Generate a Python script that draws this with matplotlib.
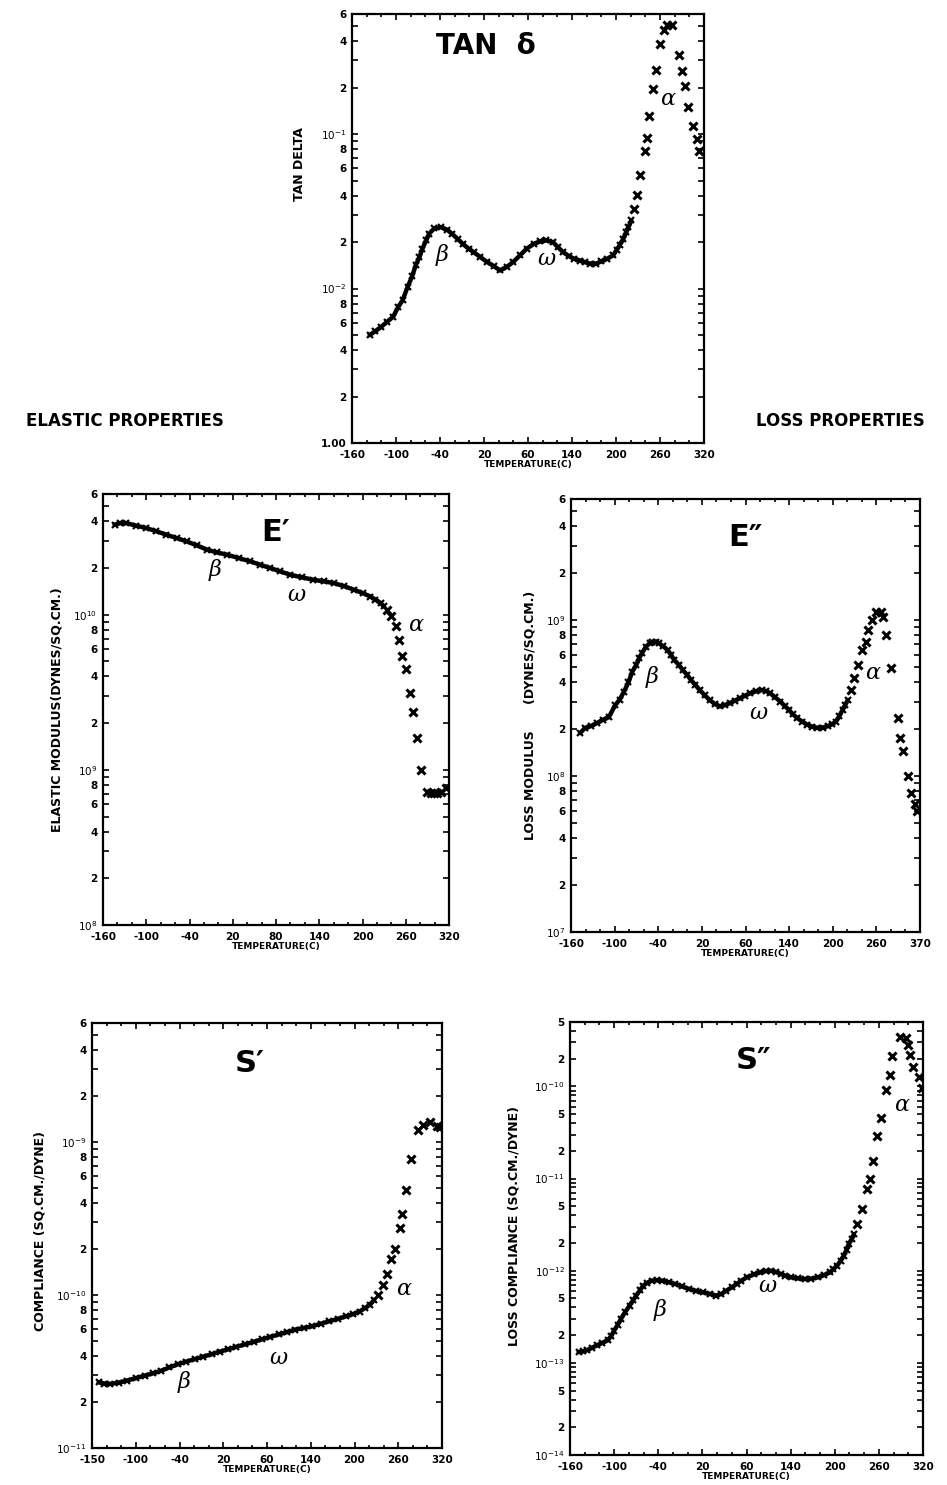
import matplotlib
matplotlib.use("Agg")
import matplotlib.pyplot as plt
import numpy as np

# ---- data (temperature in C, property values) ----
tan_T = [-136, -128, -120, -112, -104, -97, -91, -84, -78, -73, -68, -64, -59, -55, -48, -39, -30, -23, -16, -8, 0, 6, 15, 24, 33, 42, 51, 60, 69, 78, 88, 97, 105, 114, 121, 128, 136, 143, 151, 158, 165, 173, 180, 188, 196, 201, 205, 210, 214, 217, 221]
tan_V = [5.0e-3, 5.3e-3, 5.66e-3, 6.1e-3, 6.56e-3, 7.6e-3, 8.4e-3, 1.03e-2, 1.2e-2, 1.42e-2, 1.6e-2, 1.81e-2, 2.05e-2, 2.26e-2, 2.45e-2, 2.5e-2, 2.4e-2, 2.25e-2, 2.1e-2, 1.93e-2, 1.8e-2, 1.72e-2, 1.6e-2, 1.49e-2, 1.4e-2, 1.31e-2, 1.38e-2, 1.49e-2, 1.64e-2, 1.81e-2, 1.95e-2, 2.02e-2, 2.05e-2, 2.0e-2, 1.85e-2, 1.72e-2, 1.62e-2, 1.56e-2, 1.52e-2, 1.48e-2, 1.45e-2, 1.45e-2, 1.5e-2, 1.56e-2, 1.64e-2, 1.78e-2, 1.91e-2, 2.1e-2, 2.32e-2, 2.5e-2, 2.76e-2]
tan_T2 = [225, 228, 233, 239.5, 242, 245.4, 251, 255, 260, 265.7, 270, 277, 286, 290.5, 293.7, 298.7, 305, 311, 313]
tan_V2 = [3.28e-2, 4.04e-2, 5.47e-2, 7.8e-2, 9.5e-2, 0.131, 0.195, 0.262, 0.381, 0.471, 0.513, 0.513, 0.328, 0.256, 0.205, 0.149, 0.113, 0.093, 0.078]

ep_T = [-144, -136, -128, -114, -100, -86, -72, -58, -44, -30, -16, -2, 12, 28, 44, 58, 72, 86, 100, 116, 132, 146, 160, 174, 188, 200, 211, 218, 225, 230]
ep_V = [3.81e10, 3.9e10, 3.9e10, 3.75e10, 3.62e10, 3.45e10, 3.28e10, 3.12e10, 2.97e10, 2.8e10, 2.63e10, 2.52e10, 2.44e10, 2.32e10, 2.21e10, 2.1e10, 2.0e10, 1.9e10, 1.81e10, 1.74e10, 1.68e10, 1.64e10, 1.6e10, 1.53e10, 1.45e10, 1.38e10, 1.31e10, 1.25e10, 1.19e10, 1.13e10]
ep_T2 = [234, 239, 245.8, 250.5, 255, 259.8, 265.8, 270.4, 276, 281.6, 290, 295, 299, 304, 308.4, 315.4]
ep_V2 = [1.08e10, 9.75e9, 8.4e9, 6.9e9, 5.4e9, 4.5e9, 3.13e9, 2.35e9, 1.6e9, 1.0e9, 7.25e8, 7.1e8, 7.06e8, 7.1e8, 7.25e8, 7.6e8]

epp_T = [-147.5, -140.6, -132, -124.4, -116, -108, -99, -93, -87, -81, -75.7, -70, -66.5, -62, -57, -52, -48, -43, -38.7, -33, -27, -22, -18, -12, -6.3, 0, 5, 11, 17, 24, 30.7, 38, 44.6, 52, 58.5, 65, 72.4, 79, 86.3, 94, 102.5, 108, 114, 121, 128, 134, 139.5, 145, 151, 158, 165, 172, 179, 186, 192.8, 199, 204.4, 209, 213.6, 217, 220.6]
epp_V = [1.89e8, 2.04e8, 2.1e8, 2.19e8, 2.3e8, 2.39e8, 2.86e8, 3.1e8, 3.49e8, 4.0e8, 4.68e8, 5.2e8, 5.69e8, 6.2e8, 6.76e8, 7.1e8, 7.28e8, 7.3e8, 7.1e8, 6.8e8, 6.44e8, 5.95e8, 5.56e8, 5.2e8, 4.8e8, 4.45e8, 4.14e8, 3.85e8, 3.57e8, 3.3e8, 3.08e8, 2.9e8, 2.8e8, 2.86e8, 2.94e8, 3.05e8, 3.16e8, 3.28e8, 3.4e8, 3.5e8, 3.57e8, 3.52e8, 3.4e8, 3.2e8, 3.01e8, 2.82e8, 2.67e8, 2.5e8, 2.36e8, 2.24e8, 2.14e8, 2.08e8, 2.04e8, 2.05e8, 2.09e8, 2.15e8, 2.24e8, 2.42e8, 2.67e8, 2.85e8, 3.08e8]
epp_T2 = [225, 229.8, 235.4, 240, 246, 248, 254, 260, 266, 269, 273.8, 280.7, 290, 292, 297, 303, 307.6, 313, 315.5]
epp_V2 = [3.57e8, 4.25e8, 5.16e8, 6.44e8, 7.28e8, 8.63e8, 1.0e9, 1.13e9, 1.13e9, 1.05e9, 8.1e8, 4.91e8, 2.36e8, 1.76e8, 1.45e8, 1.0e8, 7.83e7, 6.6e7, 5.98e7]

sp_T = [-151, -143, -135, -123, -112, -100, -88, -76, -65, -54, -42, -31, -19, -8, 4, 15, 27, 38, 50, 62, 73, 84, 96, 108, 119, 131, 142, 154, 165, 177, 188, 198, 207, 214, 221, 227]
sp_V = [2.69e-11, 2.64e-11, 2.62e-11, 2.68e-11, 2.76e-11, 2.86e-11, 2.97e-11, 3.08e-11, 3.2e-11, 3.36e-11, 3.53e-11, 3.67e-11, 3.81e-11, 3.95e-11, 4.1e-11, 4.26e-11, 4.42e-11, 4.59e-11, 4.76e-11, 4.95e-11, 5.13e-11, 5.32e-11, 5.52e-11, 5.73e-11, 5.95e-11, 6.1e-11, 6.25e-11, 6.5e-11, 6.73e-11, 6.98e-11, 7.25e-11, 7.5e-11, 7.8e-11, 8.2e-11, 8.62e-11, 9.3e-11]
sp_T2 = [232, 239, 244.7, 250.7, 256, 262, 264.6, 270.6, 277.5, 287.6, 294.5, 303.8, 313, 317.6]
sp_V2 = [1.0e-10, 1.16e-10, 1.38e-10, 1.72e-10, 2.0e-10, 2.76e-10, 3.4e-10, 4.88e-10, 7.8e-10, 1.19e-9, 1.29e-9, 1.35e-9, 1.28e-9, 1.25e-9]

spp_T = [-148.4, -142, -136.9, -130, -123, -116, -109, -104, -100, -95, -90.7, -85, -79, -74, -70, -65, -60.6, -55, -49, -42, -35, -26, -16.7, -8, 1.8, 11, 20.3, 30, 39, 46, 52.7, 60, 66.5, 73, 80.4, 90, 99, 106, 112.8, 120, 126.6, 133, 140.5, 150, 159, 168, 177.5, 186, 193.7, 198, 203, 208, 212, 216, 219, 223, 226]
spp_V = [1.31e-13, 1.33e-13, 1.37e-13, 1.46e-13, 1.55e-13, 1.65e-13, 1.75e-13, 1.95e-13, 2.24e-13, 2.6e-13, 3.0e-13, 3.55e-13, 4.18e-13, 4.8e-13, 5.37e-13, 6.1e-13, 6.88e-13, 7.4e-13, 7.8e-13, 7.85e-13, 7.8e-13, 7.5e-13, 7.18e-13, 6.75e-13, 6.34e-13, 6.05e-13, 5.83e-13, 5.6e-13, 5.37e-13, 5.6e-13, 6.08e-13, 6.6e-13, 7.18e-13, 7.8e-13, 8.47e-13, 9.1e-13, 9.6e-13, 9.9e-13, 1.0e-12, 9.7e-13, 9.2e-13, 8.8e-13, 8.47e-13, 8.25e-13, 8.13e-13, 8.2e-13, 8.47e-13, 9.0e-13, 9.6e-13, 1.04e-12, 1.13e-12, 1.28e-12, 1.45e-12, 1.68e-12, 1.94e-12, 2.2e-12, 2.49e-12]
spp_T2 = [230.7, 237.6, 244.5, 247.8, 251.5, 257.5, 263, 270, 274.6, 278.3, 288.4, 296.8, 300, 302.3, 307, 314, 319]
spp_V2 = [3.2e-12, 4.72e-12, 7.64e-12, 9.95e-12, 1.55e-11, 2.88e-11, 4.55e-11, 9.05e-11, 1.34e-10, 2.15e-10, 3.48e-10, 3.34e-10, 2.82e-10, 2.2e-10, 1.64e-10, 1.26e-10, 9.6e-11]

x_ticks = [-160, -100, -40, 20, 80, 140, 200, 260, 320]

# ---- figure ----
W, H = 947, 1485
fig = plt.figure(figsize=(W / 100, H / 100), dpi=100)
plt.rcParams['font.family'] = ['DejaVu Sans']


def axes_px(l, t, r, b):
    return fig.add_axes([l / W, 1 - b / H, (r - l) / W, (b - t) / H])


def decade_label(e):
    return r'$10^{%d}$' % e


def setup(ax, lo_exp, hi_val, labelled, xlabels, ylabel, ylab_xy):
    ax.set_yscale('log')
    ax.set_xlim(-160, 320)
    ax.set_ylim(10.0 ** lo_exp, hi_val)
    # y ticks at every integer multiple, labels only on chosen ones
    pos, labs = [], []
    e = lo_exp
    while 10.0 ** e <= hi_val * 1.001:
        for m in range(1, 10):
            v = m * 10.0 ** e
            if v > hi_val * 1.001:
                break
            pos.append(v)
            if m == 1:
                labs.append(decade_label(e))
            elif m in labelled:
                labs.append(str(m))
            else:
                labs.append('')
        e += 1
    ax.yaxis.set_major_locator(matplotlib.ticker.FixedLocator(pos))
    ax.yaxis.set_major_formatter(matplotlib.ticker.FixedFormatter(labs))
    ax.yaxis.set_minor_locator(matplotlib.ticker.NullLocator())
    ax.set_xticks(x_ticks)
    ax.set_xticklabels(xlabels)
    ax.set_xticks(np.arange(-160, 321, 20), minor=True)
    ax.tick_params(which='both', direction='in', top=True, right=True,
                   width=1.2, labelsize=7.5)
    ax.tick_params(axis='x', which='major', length=4, pad=5)
    ax.tick_params(axis='y', which='major', length=4, pad=4)
    ax.tick_params(which='minor', length=2.5)
    for lab in ax.get_xticklabels() + ax.get_yticklabels():
        lab.set_fontweight('bold')
    for s in ax.spines.values():
        s.set_linewidth(1.6)
    ax.set_xlabel('TEMPERATURE(C)', fontsize=6.5, fontweight='bold', labelpad=0)
    ax.set_ylabel(ylabel, fontsize=9, fontweight='bold')
    ax.yaxis.set_label_coords(*ylab_xy)


def draw(ax, T, V, T2, V2):
    ax.plot(T, V, '-', color='black', lw=3.2, solid_capstyle='round')
    ax.plot(T, V, 'x', color='black', ms=5, mew=1.6)
    ax.plot(T2, V2, 'x', color='black', ms=6, mew=2.2)


def greek(ax, pts):
    for s, x, y in pts:
        ax.text(x, y, s, fontsize=16, fontstyle='italic', family='DejaVu Serif',
                ha='center', va='center')


# TAN delta
ax0 = axes_px(352, 14, 704, 443)
draw(ax0, tan_T, tan_V, tan_T2, tan_V2)
setup(ax0, -3, 0.6, (2, 4, 6, 8),
      ['-160', '-100', '-40', '20', '60', '140', '200', '260', '320'],
      'TAN DELTA', (-0.13, 0.65))
ylabs = [t.get_text() for t in ax0.get_yticklabels()]
ax0.yaxis.set_major_formatter(matplotlib.ticker.FixedFormatter(['1.00'] + ylabs[1:]))
ax0.text(0.38, 0.925, 'TAN  δ', transform=ax0.transAxes, fontsize=20,
         fontweight='bold', ha='center', va='center')
greek(ax0, [('β', -37, 1.64e-2), ('ω', 105, 1.56e-2), ('α', 270, 0.168)])

# E'
ax1 = axes_px(103, 494, 449, 925)
draw(ax1, ep_T, ep_V, ep_T2, ep_V2)
setup(ax1, 8, 6e10, (2, 4, 6, 8),
      ['-160', '-100', '-40', '20', '80', '140', '200', '260', '320'],
      'ELASTIC MODULUS(DYNES/SQ.CM.)', (-0.115, 0.5))
ax1.text(0.5, 0.91, 'E′', transform=ax1.transAxes, fontsize=22,
         fontweight='bold', ha='center', va='center')
greek(ax1, [('β', -5, 1.95e10), ('ω', 109, 1.35e10), ('α', 274, 8.6e9)])

# E''
ax2 = axes_px(571, 499, 920, 932)
draw(ax2, epp_T, epp_V, epp_T2, epp_V2)
setup(ax2, 7, 6e9, (2, 4, 6, 8),
      ['-160', '-100', '-40', '20', '60', '140', '200', '260', '370'],
      'LOSS MODULUS      (DYNES/SQ.CM.)', (-0.1, 0.5))
ax2.text(0.5, 0.91, 'E″', transform=ax2.transAxes, fontsize=22,
         fontweight='bold', ha='center', va='center')
greek(ax2, [('β', -48, 4.35e8), ('ω', 98, 2.53e8), ('α', 255, 4.57e8)])

# S'
ax3 = axes_px(92, 1023, 442, 1448)
draw(ax3, sp_T, sp_V, sp_T2, sp_V2)
setup(ax3, -11, 6e-9, (2, 4, 6, 8),
      ['-150', '-100', '-40', '20', '60', '140', '200', '260', '320'],
      'COMPLIANCE (SQ.CM./DYNE)', (-0.13, 0.51))
ax3.text(0.45, 0.905, 'S′', transform=ax3.transAxes, fontsize=22,
         fontweight='bold', ha='center', va='center')
greek(ax3, [('β', -33, 2.69e-11), ('ω', 96, 3.9e-11), ('α', 267, 1.1e-10)])

# S''
ax4 = axes_px(570, 1022, 923, 1455)
draw(ax4, spp_T, spp_V, spp_T2, spp_V2)
setup(ax4, -14, 5e-10, (2, 5),
      ['-160', '-100', '-40', '20', '60', '140', '200', '260', '320'],
      'LOSS COMPLIANCE (SQ.CM./DYNE)', (-0.14, 0.53))
ax4.text(0.52, 0.91, 'S″', transform=ax4.transAxes, fontsize=22,
         fontweight='bold', ha='center', va='center')
greek(ax4, [('β', -37, 3.7e-13), ('ω', 108, 6.9e-13), ('α', 291, 6.3e-11)])

fig.text(125 / W, 1 - 421 / H, 'ELASTIC PROPERTIES', fontsize=12,
         fontweight='bold', ha='center', va='center')
fig.text(840 / W, 1 - 421 / H, 'LOSS PROPERTIES', fontsize=12,
         fontweight='bold', ha='center', va='center')

fig.savefig('out.png', dpi=100)
